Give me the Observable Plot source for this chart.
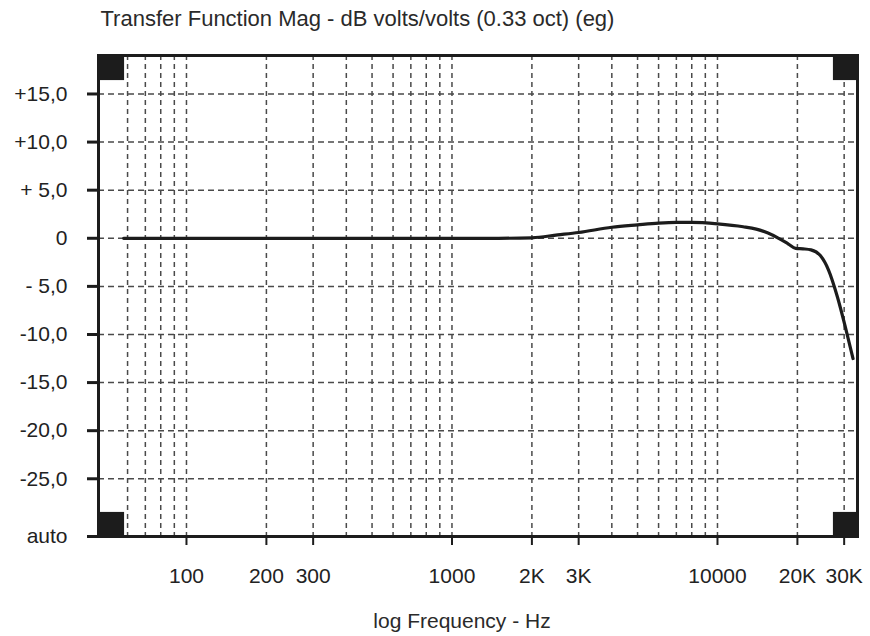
<!DOCTYPE html>
<html><head><meta charset="utf-8">
<script src="https://cdn.jsdelivr.net/npm/d3@7"></script>
<script src="https://cdn.jsdelivr.net/npm/@observablehq/plot@0.6"></script>
<style>body{margin:0;background:#fff}</style>
</head><body><div id="chart"></div>
<script>
// Curve data
const freq  = [58, 100, 200, 500, 1000, 1500, 2000, 2500, 3000, 4000, 5000, 6000, 7000, 8000, 10000, 12500, 14000, 15500, 17000, 18500, 19700, 21000, 22500, 24400, 26200, 28300, 30300, 32400];
const magDb = [0, 0, 0, 0, 0, 0, 0.05, 0.35, 0.6, 1.15, 1.4, 1.58, 1.65, 1.65, 1.5, 1.2, 0.95, 0.55, 0.0, -0.6, -1.05, -1.1, -1.2, -1.8, -3.3, -6.1, -9.2, -12.5];

// Axis ticks & labels
const xTicks  = [100, 200, 300, 1000, 2000, 3000, 10000, 20000, 30000];
const xLabels = ["100", "200", "300", "1000", "2K", "3K", "10000", "20K", "30K"];
const yTicks  = [15, 10, 5, 0, -5, -10, -15, -20, -25, -31];
const yLabels = ["+15,0", "+10,0", "+ 5,0", "0", "- 5,0", "-10,0", "-15,0", "-20,0", "-25,0", "auto"];
const yGrid   = [15, 10, 5, 0, -5, -10, -15, -20, -25];
const xGrid   = [60, 70, 80, 90, 100, 200, 300, 400, 500, 600, 700, 800, 900, 1000,
                 2000, 3000, 4000, 5000, 6000, 7000, 8000, 9000, 10000, 20000, 30000];
const corners = ["top-left", "top-right", "bottom-left", "bottom-right"];

const titleText  = "Transfer Function Mag - dB volts/volts (0.33 oct) (eg)";
const xLabelText = "log Frequency - Hz";

const data = freq.map((f, i) => ({f, db: magDb[i]}));
const xLab = new Map(xTicks.map((v, i) => [v, xLabels[i]]));
const yLab = new Map(yTicks.map((v, i) => [v, yLabels[i]]));
const cornerOff = {"top-left": [13, 12], "top-right": [-12, 12], "bottom-left": [13, -12], "bottom-right": [-12, -12]};

const chart = Plot.plot({
  width: 870,
  height: 636,
  marginLeft: 98,
  marginRight: 13,
  marginTop: 55,
  marginBottom: 100,
  style: {fontFamily: "'Liberation Sans', Arial, sans-serif", color: "#222", background: "#fff"},
  x: {type: "log", domain: [46.63, 33680], label: null},
  y: {domain: [-31, 19], label: null},
  marks: [
    Plot.ruleY(yGrid, {stroke: "#4a4a4a", strokeWidth: 1.5, strokeDasharray: "6,4"}),
    Plot.ruleX(xGrid, {stroke: "#4a4a4a", strokeWidth: 1.5, strokeDasharray: "5,4"}),
    ...corners.map(c => Plot.dot([c], {frameAnchor: c, dx: cornerOff[c][0], dy: cornerOff[c][1],
      symbol: "square", r: 14.2, fill: "#1c1c1c", stroke: "none"})),
    Plot.frame({stroke: "#1c1c1c", strokeWidth: 3}),
    Plot.axisY({ticks: yTicks, tickFormat: d => yLab.get(d), tickSize: 11, tickPadding: 20,
      fontSize: 21, strokeWidth: 3, stroke: "#1c1c1c"}),
    Plot.axisX({ticks: xTicks, tickFormat: d => xLab.get(d), tickSize: 9, tickPadding: 23,
      fontSize: 21, strokeWidth: 2, stroke: "#1c1c1c"}),
    Plot.line(data, {x: "f", y: "db", curve: "monotone-x", stroke: "#1c1c1c", strokeWidth: 3.2}),
    Plot.text([titleText], {frameAnchor: "top-left", dx: 2, dy: -37, lineAnchor: "middle",
      textAnchor: "start", fontSize: 22, fill: "#2a2a2a"}),
    Plot.text([xLabelText], {frameAnchor: "bottom", dx: -16, dy: 85, lineAnchor: "middle",
      fontSize: 21, fill: "#2a2a2a"})
  ]
});
document.getElementById("chart").appendChild(chart);
</script>
</body></html>
